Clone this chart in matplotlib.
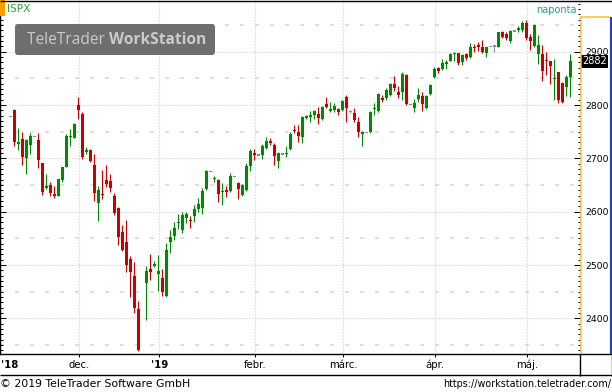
import numpy as np
import matplotlib
matplotlib.use("Agg")
import matplotlib.pyplot as plt
import matplotlib.transforms as mtransforms
from matplotlib.lines import Line2D
from matplotlib.patches import Rectangle, FancyBboxPatch
from matplotlib.ticker import MultipleLocator

plt.rcParams['lines.scale_dashes'] = False
plt.rcParams['font.family'] = ['DejaVu Sans']

# ---------------- data (one slot per session, None = no candle) ----------------
opens = [2779.0, 2790.7, 2728.2, 2735.7, 2701.2, 2725.0, 2741.3, 2734.4, 2691.9, 2643.9,
         2650.0, 2633.2, 2629.4, 2659.4, 2683.2, 2740.0, 2738.7, 2800.0, 2783.2, 2711.4,
         2715.1, 2687.6, 2616.9, 2633.2, 2659.4, 2658.1, 2629.4, 2606.4, 2562.5, 2543.7,
         2511.3, 2479.4, 2417.6, None, 2466.9, 2492.0, 2498.2, 2483.2, 2475.7, 2441.9,
         2543.2, 2554.4, 2578.8, 2565.7, 2588.7, 2583.9, 2591.9, 2604.4, 2607.5, 2642.6,
         2675.7, 2661.7, 2659.4, 2637.9, 2640.7, 2638.8, 2665.6, 2653.8, 2631.3, 2640.7,
         2685.7, 2709.1, 2706.3, 2706.3, 2720.0, 2733.1, 2725.0, 2695.6, 2708.2, 2708.2,
         2717.6, 2752.2, 2748.9, 2740.6, 2775.7, 2778.9, 2781.3, 2782.6, 2773.2, 2801.4,
         2790.1, 2790.7, 2793.1, 2790.7, 2814.5, 2787.8, 2784.5, 2768.7, 2745.1, 2748.9,
         2748.9, 2792.9, 2789.4, 2813.8, 2812.6, 2818.8, 2839.4, 2825.0, 2825.0, 2856.3,
         2801.4, 2795.0, 2811.3, 2816.9, 2793.9, 2820.7, 2852.0, 2868.9, 2867.0, 2876.9,
         2883.1, 2895.1, 2897.0, 2881.2, 2895.1, 2890.6, 2908.8, 2911.2, 2908.8, 2897.5,
         2909.4, 2910.7, 2909.4, 2936.4, 2932.6, 2920.6, 2938.8, 2942.0, 2940.7, 2954.4,
         2927.0, 2910.7, 2895.7, 2895.1, 2884.4, 2882.5, 2848.2, 2861.4, 2840.7, 2834.4,
         2852.0]
closes = [2779.0, 2731.2, 2729.3, 2703.1, 2734.4, 2741.9, 2741.3, 2696.9, 2637.5, 2648.2,
          2634.5, 2629.4, 2661.3, 2683.2, 2741.9, 2741.9, 2764.4, 2790.7, 2703.1, 2715.1,
          2695.6, 2635.6, 2640.7, 2631.9, 2651.9, 2645.0, 2597.0, 2553.1, 2528.2, 2500.1,
          2487.5, 2420.0, 2340.7, None, 2488.8, 2487.5, 2501.9, 2488.8, 2450.0, 2528.2,
          2552.5, 2568.9, 2580.7, 2594.4, 2595.7, 2582.0, 2605.0, 2614.4, 2638.8, 2676.3,
          2675.7, 2662.6, 2633.2, 2638.8, 2636.9, 2666.9, 2665.6, 2642.6, 2650.1, 2685.7,
          2713.8, 2707.2, 2706.3, 2723.2, 2732.6, 2729.4, 2705.0, 2709.5, 2708.2, 2709.5,
          2745.7, 2750.9, 2741.9, 2777.6, 2780.0, 2779.8, 2788.8, 2775.1, 2796.9, 2795.7,
          2791.0, 2798.8, 2787.5, 2807.6, 2793.9, 2787.8, 2771.9, 2750.0, 2750.0, 2748.9,
          2787.5, 2793.9, 2820.1, 2809.4, 2827.6, 2838.9, 2831.9, 2818.8, 2858.2, 2801.4,
          2801.4, 2803.2, 2818.8, 2801.9, 2816.9, 2837.6, 2867.0, 2864.4, 2878.2, 2881.2,
          2895.7, 2898.1, 2878.2, 2893.8, 2888.7, 2908.3, 2907.5, 2910.1, 2899.4, 2908.3,
          2909.4, 2910.7, 2936.4, 2928.1, 2925.1, 2938.8, 2938.8, 2942.9, 2954.4, 2925.1,
          2920.6, 2950.1, 2912.6, 2864.4, 2882.5, 2873.7, 2850.1, 2809.4, 2806.2, 2853.1,
          2882.0]
highs = [2779.0, 2792.5, 2756.3, 2750.0, 2737.2, 2747.0, 2741.3, 2748.1, 2692.0, 2670.1,
         2656.2, 2648.2, 2661.3, 2683.5, 2745.6, 2755.0, 2765.7, 2815.1, 2786.9, 2720.7,
         2717.6, 2708.2, 2648.2, 2678.2, 2687.6, 2670.7, 2635.6, 2608.2, 2575.0, 2584.4,
         2516.9, 2506.3, 2432.6, None, 2498.2, 2520.7, 2507.6, 2518.8, 2492.0, 2540.7,
         2565.7, 2580.7, 2595.7, 2600.0, 2598.9, 2591.9, 2613.1, 2626.3, 2643.9, 2678.2,
         2675.7, 2666.9, 2660.7, 2654.4, 2648.2, 2672.0, 2665.6, 2655.7, 2651.9, 2691.9,
         2717.0, 2717.0, 2706.3, 2726.9, 2739.5, 2737.6, 2728.2, 2711.4, 2708.2, 2723.2,
         2748.9, 2762.6, 2762.6, 2779.4, 2781.3, 2788.8, 2790.1, 2796.9, 2798.2, 2814.5,
         2805.1, 2804.4, 2795.0, 2809.4, 2818.8, 2790.7, 2793.9, 2778.1, 2751.3, 2748.9,
         2788.8, 2803.2, 2822.0, 2818.8, 2831.4, 2840.7, 2854.4, 2835.7, 2861.4, 2857.6,
         2801.4, 2811.3, 2831.4, 2825.0, 2818.8, 2839.4, 2870.7, 2870.7, 2885.7, 2883.9,
         2897.6, 2900.0, 2898.1, 2895.7, 2898.1, 2915.7, 2913.9, 2918.8, 2921.0, 2909.7,
         2909.4, 2912.6, 2937.5, 2938.8, 2936.4, 2940.7, 2938.8, 2948.2, 2957.6, 2959.4,
         2933.2, 2951.9, 2931.3, 2912.6, 2900.0, 2882.5, 2886.3, 2862.5, 2843.2, 2856.3,
         2895.1]
lows = [2779.0, 2723.7, 2715.7, 2687.6, 2670.7, 2708.2, 2741.3, 2682.5, 2631.3, 2642.6,
        2629.4, 2625.7, 2629.0, 2656.2, 2683.0, 2723.2, 2737.6, 2773.8, 2698.2, 2708.2,
        2693.2, 2620.6, 2583.1, 2623.2, 2646.9, 2636.9, 2593.8, 2537.6, 2526.9, 2487.5,
        2440.6, 2409.5, 2338.8, None, 2396.9, 2471.9, 2495.7, 2451.3, 2441.9, 2440.6,
        2523.1, 2546.9, 2567.6, 2560.6, 2578.2, 2568.9, 2581.2, 2598.9, 2595.7, 2640.7,
        2675.7, 2655.1, 2618.8, 2612.6, 2627.0, 2636.4, 2665.6, 2623.8, 2629.4, 2639.4,
        2676.9, 2696.9, 2706.3, 2698.8, 2718.1, 2725.0, 2687.6, 2682.5, 2708.2, 2703.1,
        2715.7, 2747.0, 2731.2, 2729.3, 2774.4, 2768.7, 2773.8, 2764.4, 2771.9, 2793.9,
        2786.3, 2786.3, 2781.3, 2789.4, 2768.7, 2784.5, 2768.7, 2740.6, 2723.7, 2748.9,
        2747.6, 2781.3, 2787.5, 2806.2, 2809.4, 2816.9, 2825.4, 2813.2, 2809.4, 2800.0,
        2801.4, 2787.5, 2805.1, 2788.8, 2792.6, 2818.8, 2850.1, 2860.6, 2865.7, 2867.6,
        2881.6, 2883.1, 2875.1, 2875.1, 2884.4, 2888.7, 2900.0, 2901.9, 2897.5, 2889.1,
        2909.4, 2898.9, 2908.3, 2925.1, 2921.9, 2915.8, 2938.8, 2937.5, 2937.5, 2921.9,
        2903.2, 2909.4, 2876.3, 2845.1, 2856.3, 2838.8, 2809.4, 2803.2, 2802.9, 2816.9,
        2815.6]

month_labels = ["dec.", "'19", "febr.", "márc.", "ápr.", "máj."]
month_slots = [17, 37, 61, 83, 106, 129]      # first session slot of each month
year_start_label = "'18"
symbol = "ISPX"
period_label = "naponta"

# ---------------- styling ----------------
GREEN = '#008a00'
RED = '#c80000'
GRAY = '#8c8c8c'
GRID = '#c4c4c4'
W, H = 612, 392

fig = plt.figure(figsize=(W / 100, H / 100), dpi=100)
fig.patch.set_facecolor('white')
PX = mtransforms.Affine2D().scale(1.0 / W, -1.0 / H).translate(0, 1) + fig.transFigure

PL, PR, PT, PB = 0, 580, 0, 354
ax = fig.add_axes([PL / W, 1 - PB / H, (PR - PL) / W, (PB - PT) / H])
ax.set_facecolor('white')

# y scale: 100 points == 53.33 px
ax.set_ylim(2333.2, 2996.9)
ax.set_xlim(-2.55, 142.45)

def arr(v):
    return np.array([np.nan if x is None else x for x in v], dtype=float)

o, c, h, l = arr(opens), arr(closes), arr(highs), arr(lows)
idx = np.arange(len(c))
valid = ~np.isnan(c)
col = np.where(c > o, GREEN, np.where(c < o, RED, GRAY))
val_per_px = (2996.9 - 2333.2) / (PB - PT)
minh = 1.2 * val_per_px
bot = np.minimum(o, c)
hgt = np.abs(c - o)
small = hgt < minh
bot = np.where(small, (o + c) / 2 - minh / 2, bot)
hgt = np.where(small, minh, hgt)

ax.vlines(idx[valid], l[valid], h[valid], colors=col[valid], linewidth=0.8, zorder=3)
ax.bar(idx[valid], hgt[valid], bottom=bot[valid], width=0.75, color=col[valid],
       linewidth=0, zorder=4)

# ---------------- grid ----------------
ax.yaxis.set_major_locator(MultipleLocator(100))
ax.yaxis.set_minor_locator(MultipleLocator(10))
ax.set_axisbelow(True)
ax.grid(axis='y', which='major', color=GRID, linestyle=(0, (0.72, 1.44)), linewidth=0.8)
month_pos = [m + 0.3 for m in month_slots]
ax.set_xticks(month_pos)
ax.grid(axis='x', which='major', color=GRID, linestyle=(0, (0.72, 1.44)), linewidth=0.8)
ymin, ymax = ax.get_ylim()
yt = [t for t in ax.get_yticks() if ymin <= t <= ymax]
half_levels = sorted(set([t + 50 for t in yt] + [min(yt) - 50]))
for lev in half_levels:
    if ymin < lev < ymax:
        ax.axhline(lev, color='#d6d6d6', linestyle=(0, (2.88, 7.92)), linewidth=1.1, zorder=0.5)

# ---------------- ticks ----------------
ax.tick_params(axis='y', which='both', direction='in', left=True, right=True,
               labelleft=False, labelright=True, colors='black', labelsize=6.7, pad=4)
ax.tick_params(axis='y', which='major', length=4.5, width=0.72)
ax.tick_params(axis='y', which='minor', length=1.8, width=0.72)
ax.tick_params(axis='x', which='major', direction='out', length=2.5, width=0.72,
               labelbottom=False, colors='black')

for s in ['top', 'right']:
    ax.spines[s].set_visible(False)
for s in ['left', 'bottom']:
    ax.spines[s].set_color('black')
    ax.spines[s].set_linewidth(1.0)

# month labels
xlab_tr = mtransforms.blended_transform_factory(ax.transData, PX)
for pos, lab in zip(month_pos, month_labels):
    ax.text(pos, 365, lab, transform=xlab_tr, ha='center', va='center', fontsize=7.3,
            fontweight='bold' if lab.startswith("'") else 'normal', color='black', clip_on=False)
fig.text(1, 365, year_start_label, transform=PX, ha='left', va='center', fontsize=7.3,
         fontweight='bold', color='black')

# last value box
last_tr = mtransforms.blended_transform_factory(PX, ax.transData)
ax.text(582, closes[-1], f"{closes[-1]:.0f}", transform=last_tr, ha='left', va='center',
        fontsize=7.0, color='white', clip_on=False,
        bbox=dict(boxstyle='square,pad=0.15', facecolor='black', edgecolor='none'), zorder=10)

# ---------------- frame lines ----------------
def pxline(xs, ys, color, lw):
    fig.add_artist(Line2D(xs, ys, transform=PX, color=color, linewidth=lw, solid_capstyle='butt'))

pxline([0, W], [0.5, 0.5], 'black', 1.0)
pxline([580, W], [354.5, 354.5], 'black', 1.0)
pxline([0, W], [375.5, 375.5], 'black', 1.0)
pxline([579.5, 579.5], [354, 376], 'black', 1.0)
pxline([611.5, 611.5], [354, 376], 'black', 1.0)
pxline([580.5, 580.5], [17, 354], '#f2c230', 1.1)
pxline([580, 610], [17, 17], '#f2c230', 1.1)
pxline([610.5, 610.5], [17, 354], '#1f3fc4', 1.5)

# header
fig.add_artist(Rectangle((0, 0), 5, 16, transform=PX, facecolor='#f5a000', edgecolor='none'))
fig.text(7, 8.5, symbol, transform=PX, ha='left', va='center', fontsize=7.6, color='#3a9a3a')
fig.text(577, 10, period_label, transform=PX, ha='right', va='center', fontsize=7.0, color='#1fa381')

# watermark (font size fitted to the box width)
fig.add_artist(FancyBboxPatch((15, 24), 200, 31, boxstyle='round,pad=0,rounding_size=3',
                              transform=PX, facecolor='#6e6e6e', edgecolor='none', zorder=5))
WM_X0, WM_W, WM_Y = 27, 178, 40
fs = 12.0
renderer = fig.canvas.get_renderer()
ta = fig.text(WM_X0, WM_Y, "TeleTrader ", transform=PX, ha='left', va='center', fontsize=fs,
              color='#cbcbcb', family='Open Sans', zorder=6)
tb = fig.text(0, WM_Y, "WorkStation", transform=PX, ha='left', va='center', fontsize=fs,
              color='#cbcbcb', family='Open Sans', fontweight='bold', zorder=6)
wtot = ta.get_window_extent(renderer).width + tb.get_window_extent(renderer).width
fs = fs * WM_W / wtot
ta.set_fontsize(fs)
tb.set_fontsize(fs)
xa1 = ta.get_window_extent(renderer).x1
tb.set_transform(mtransforms.blended_transform_factory(mtransforms.IdentityTransform(), PX))
tb.set_x(xa1)

# footer
fig.text(0, 384, "© 2019 TeleTrader Software GmbH", transform=PX, ha='left', va='center',
         fontsize=7.8, color='black')
fig.text(611, 384, "https://workstation.teletrader.com/", transform=PX, ha='right', va='center',
         fontsize=6.9, color='black')

fig.savefig('out.png', dpi=100, facecolor='white')
